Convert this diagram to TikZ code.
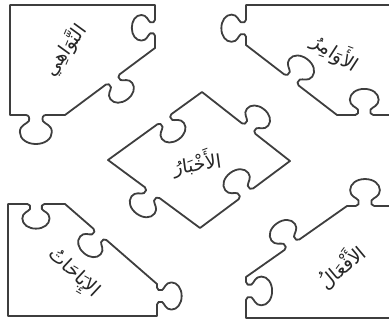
\documentclass[tikz,border=0pt]{standalone}
\usepackage{fontspec}
\usetikzlibrary{calc}
\newfontfamily\arabicfont[Script=Arabic]{DejaVu Sans}
\TeXXeTstate=1
\definecolor{linegray}{RGB}{62,62,62}
\tikzset{
  kf/.style 2 args={shift={(\p2)},rotate=\n1,scale=#2,yscale=#1},
  knob/.style n args={3}{to path={
    let \p1=($(\tikztotarget)-(\tikztostart)$), \n1={atan2(\y1,\x1)},
        \p2=($(\tikztostart)!#1!(\tikztotarget)$) in
    -- ([kf={#2}{#3}]-10,0)
    .. controls ([kf={#2}{#3}]-7,0) and ([kf={#2}{#3}]-6,3) .. ([kf={#2}{#3}]-7,6)
    .. controls ([kf={#2}{#3}]-9,9) and ([kf={#2}{#3}]-16,10) .. ([kf={#2}{#3}]-16,17)
    .. controls ([kf={#2}{#3}]-16,24) and ([kf={#2}{#3}]-9,29) .. ([kf={#2}{#3}]0,29)
    .. controls ([kf={#2}{#3}]9,29) and ([kf={#2}{#3}]16,24) .. ([kf={#2}{#3}]16,17)
    .. controls ([kf={#2}{#3}]16,10) and ([kf={#2}{#3}]9,9) .. ([kf={#2}{#3}]7,6)
    .. controls ([kf={#2}{#3}]6,3) and ([kf={#2}{#3}]7,0) .. ([kf={#2}{#3}]10,0)
    -- (\tikztotarget)}},
  piece/.style={draw=linegray, line width=1.8pt, line join=round, line cap=round},
  lbl/.style={font=\arabicfont\fontsize{19}{22}\selectfont, text=black!85, inner sep=0pt}
}
\begin{document}
\begin{tikzpicture}[x=1pt,y=-1pt]
\useasboundingbox (0,0) rectangle (389,322);
% NW piece
\draw[piece] (10,5) -- (155,5) to[knob={0.53}{1}{0.8}] (155,48)
  to[knob={0.47}{-1}{0.85}] (65,115) to[knob={0.53}{-1}{1}] (10,115) -- cycle;
% NE piece
\draw[piece] (246,45) to[knob={0.42}{-1}{0.85}] (246,5) -- (395,5) -- (395,115)
  to[knob={0.53}{1}{0.9}] (337,115) to[knob={0.5}{1}{0.9}] (246,45) -- cycle;
% centre piece
\draw[piece] (108,160) to[knob={0.6}{1}{0.85}] (202,92)
  to[knob={0.53}{-1}{0.85}] (290,161) to[knob={0.49}{1}{0.9}] (200,228)
  to[knob={0.52}{-1}{0.9}] (108,160) -- cycle;
% SW piece
\draw[piece] (8,316) -- (8,204) to[knob={0.49}{1}{0.85}] (65,204)
  to[knob={0.38}{1}{0.85}] (157,284) to[knob={0.375}{-1}{0.85}] (157,316) -- cycle;
% SE piece
\draw[piece] (246,318) to[knob={0.66}{1}{0.9}] (246,277)
  to[knob={0.455}{-1}{0.9}] (347,206) to[knob={0.375}{-1}{0.93}] (395,206)
  -- (395,318) -- cycle;
% labels
\node[lbl, rotate=54] (nw) at (65,50) {\beginR النَّوَاهِي\endR};
\node[lbl, rotate=-33] (ne) at (336,52) {\beginR الأَوَامِرُ\endR};
\node[lbl, rotate=8] (ce) at (197,163) {\beginR الأَخْبَارُ\endR};
\node[lbl, rotate=-43] (sw) at (73,274) {\beginR الإِبَاحَاتُ\endR};
\node[lbl, rotate=40] (se) at (341,266) {\beginR الأَفْعَالُ\endR};
\end{tikzpicture}
\end{document}
